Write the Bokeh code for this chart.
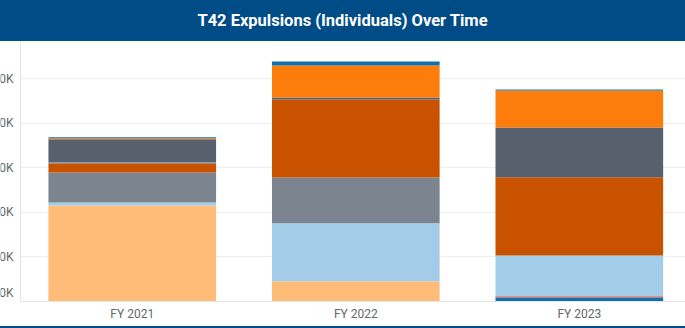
from bokeh.plotting import figure
from bokeh.models import ColumnDataSource, Range1d, FixedTicker, Div
from bokeh.layouts import column, row
from bokeh.core.properties import value
from bokeh.embed import file_html
from bokeh.resources import INLINE

# ---------------- data (thousands of individuals) ----------------
years = ["FY 2021", "FY 2022", "FY 2023"]
series_names = ["Group 1", "Group 2", "Group 3", "Group 4", "Group 5",
                "Group 6", "Group 7", "Group 8", "Group 9", "Group 10"]
# stacked bottom -> top
group_1 = [0, 0, 18]
group_2 = [0, 0, 6]
group_3 = [430, 91, 0]
group_4 = [13.5, 260, 182]
group_5 = [135, 205, 0]
group_6 = [42, 350, 351]
group_7 = [4.5, 0, 0]
group_8 = [103, 9, 223]
group_9 = [4.5, 143, 166]
group_10 = [4.5, 18, 4.5]
series_colors = ["#1170aa", "#d9575b", "#ffbc79", "#a3cce9", "#7b848f",
                 "#c85200", "#5fa2ce", "#57606c", "#fc7d0b", "#1170aa"]
y_ticks = [0, 200, 400, 600, 800, 1000]
y_tick_labels = ["0K", "200K", "400K", "600K", "800K", "1,000K"]

title_text = "T42 Expulsions (Individuals) Over Time"
navy = "#004c87"
label_color = "#666666"

data = {
    "x": [i + 0.5 for i in range(len(years))],
    "Group 1": group_1, "Group 2": group_2, "Group 3": group_3,
    "Group 4": group_4, "Group 5": group_5, "Group 6": group_6,
    "Group 7": group_7, "Group 8": group_8, "Group 9": group_9,
    "Group 10": group_10,
}
source = ColumnDataSource(data)
y_range = Range1d(0, 1166)

# ---------------- main plot ----------------
p = figure(
    width=665, height=285,
    min_border_left=0, min_border_right=0,
    min_border_top=0, min_border_bottom=25,
    x_range=Range1d(0, 2.975), y_range=y_range,
    output_backend="svg", toolbar_location=None, margin=0,
)
p.vbar_stack(series_names, x="x", width=0.75, source=source,
             color=series_colors, line_color=None)

p.outline_line_color = None
p.xgrid.grid_line_color = None
p.ygrid.ticker = FixedTicker(ticks=y_ticks)
p.ygrid.grid_line_color = "#eeeeee"

p.xaxis.ticker = FixedTicker(ticks=data["x"])
p.xaxis.major_label_overrides = {x: lab for x, lab in zip(data["x"], years)}
p.xaxis.major_label_standoff = 5
p.xaxis.major_label_text_font = "Roboto"
p.xaxis.major_label_text_font_size = "12px"
p.xaxis.major_label_text_color = label_color

# the y axis keeps only its line; its labels sit in the strip at the left
p.yaxis.ticker = FixedTicker(ticks=[])
p.yaxis.major_label_standoff = 0

for ax in (p.xaxis, p.yaxis):
    ax.axis_line_color = "#e4e4e4"
    ax.major_tick_line_color = None
    ax.minor_tick_line_color = None
    ax.major_tick_out = 0
    ax.major_tick_in = 0

# ---------------- left strip with the y tick labels (cut at window edge) ----
lab_src = ColumnDataSource(dict(
    y=y_ticks, text=y_tick_labels,
    dy=[-9 if t == 0 else 0 for t in y_ticks],
))
lf = figure(
    width=20, height=285,
    min_border_left=0, min_border_right=0,
    min_border_top=0, min_border_bottom=25,
    x_range=Range1d(0, 20), y_range=y_range,
    x_axis_type=None, y_axis_type=None,
    output_backend="svg", toolbar_location=None, margin=0,
)
lf.grid.visible = False
lf.outline_line_color = None
lf.text(x=13, y="y", text="text", y_offset="dy", source=lab_src,
        text_align="right", text_baseline="middle",
        text_font=value("Roboto"), text_font_size="12px", text_color=label_color)

title = Div(
    text=f'<div style="width:685px;height:41px;line-height:41px;text-align:center;'
         f'color:white;font-family:Roboto;font-weight:bold;font-size:16.5px;">{title_text}</div>',
    width=685, height=41, margin=0,
    styles={"background-color": navy},
)
bottom_line = Div(text="", width=685, height=2, margin=0,
                  styles={"background-color": navy})

layout = column(title, row(lf, p, spacing=0, margin=0), bottom_line,
                spacing=0, margin=0)

open("out.html", "w").write(file_html(layout, INLINE))
